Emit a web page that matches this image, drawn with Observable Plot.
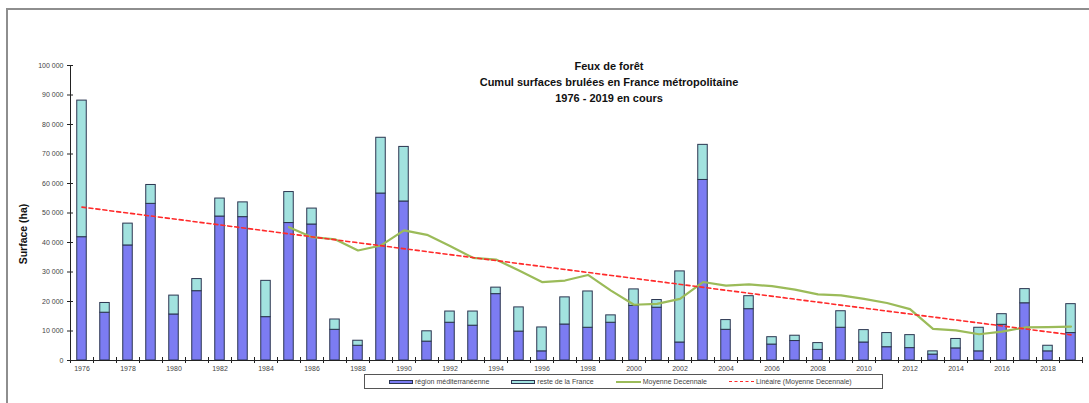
<!DOCTYPE html>
<html>
<head>
<meta charset="utf-8">
<script src="https://cdn.jsdelivr.net/npm/d3@7"></script>
<script src="https://cdn.jsdelivr.net/npm/@observablehq/plot@0.6"></script>
<style>
  html, body { margin: 0; padding: 0; background: #fff; }
  #wrap { position: relative; width: 1089px; height: 403px; overflow: hidden; font-family: "Liberation Sans", Arial, sans-serif; }
  #frame { position: absolute; left: 6px; top: 8px; width: 1100px; height: 420px; border-left: 2px solid #8e8e8e; border-top: 2px solid #8e8e8e; }
  #chart { position: absolute; left: 0; top: 0; }
  #title { position: absolute; left: 409px; width: 400px; top: 58px; text-align: center; font-weight: bold; font-size: 11px; line-height: 16px; color: #111; font-family: "Liberation Sans Narrow", "Liberation Sans", Arial, sans-serif; }
  #ylabel { position: absolute; left: 23px; top: 234px; transform: translate(-50%, -50%) rotate(-90deg); font-weight: bold; font-size: 10.5px; white-space: nowrap; color: #111; }
  #legend { position: absolute; left: 364px; top: 374px; width: 519px; height: 15px; border: 1px solid #555; box-sizing: border-box; display: flex; align-items: center; font-size: 7px; color: #444; padding-left: 24px; }
  .item { display: flex; align-items: center; margin-right: 22px; white-space: nowrap; }
  .sw { display: inline-block; width: 24px; height: 4px; border: 1px solid #2b3550; box-sizing: border-box; margin-right: 2px; }
  .ln { display: inline-block; width: 25px; height: 0; margin-right: 2px; }
</style>
</head>
<body>
<div id="wrap">
  <div id="frame"></div>
  <div id="chart"></div>
  <div id="title">Feux de forêt<br>Cumul surfaces brulées en France métropolitaine<br>1976 - 2019 en cours</div>
  <div id="ylabel">Surface (ha)</div>
  <div id="legend"></div>
</div>
<script>
// ---- data ----
const years = [1976,1977,1978,1979,1980,1981,1982,1983,1984,1985,1986,1987,1988,1989,1990,1991,1992,1993,1994,1995,1996,1997,1998,1999,2000,2001,2002,2003,2004,2005,2006,2007,2008,2009,2010,2011,2012,2013,2014,2015,2016,2017,2018,2019];
const mediterranee = [41800,16200,39000,53100,15600,23500,48800,48600,14700,46600,46100,10400,5000,56600,53900,6400,12800,11800,22500,9800,3100,12200,11100,12800,18500,17900,6100,61200,10400,17400,5400,6600,3600,11100,6100,4500,4200,2000,4100,3100,12100,19400,3100,9300];
const resteFrance = [46300,3300,7400,6400,6400,4100,6100,5000,12300,10500,5400,3500,1700,18900,18500,3500,3800,4800,2200,8200,8100,9200,12300,2500,5600,2600,24100,11900,3300,4400,2500,1800,2300,5600,4200,4800,4400,1100,3200,8000,3600,4800,1900,9800];
const moyenneYears = [1985,1986,1987,1988,1989,1990,1991,1992,1993,1994,1995,1996,1997,1998,1999,2000,2001,2002,2003,2004,2005,2006,2007,2008,2009,2010,2011,2012,2013,2014,2015,2016,2017,2018,2019];
const moyenneDecennale = [45200,41800,41100,37300,39000,44100,42600,38800,34800,34200,30500,26600,27100,29000,23700,18900,19200,20900,26600,25400,25800,25200,24000,22400,22100,20900,19500,17400,10700,10200,8900,9800,11200,11300,11500];
const trendYears = [1976, 2019];
const trendValues = [52000, 8700];
const yTicks = [0,10000,20000,30000,40000,50000,60000,70000,80000,90000,100000];
const xLabelYears = [1976,1978,1980,1982,1984,1986,1988,1990,1992,1994,1996,1998,2000,2002,2004,2006,2008,2010,2012,2014,2016,2018];
const seriesNames = ["région méditerranéenne", "reste de la France", "Moyenne Decennale", "Linéaire (Moyenne Decennale)"];
const colors = ["#7c7cf2", "#a2e2df", "#9bbb59", "#ff2a2a"];

// ---- build tables ----
const bars = [];
years.forEach((y, i) => {
  bars.push({year: y, serie: seriesNames[0], value: mediterranee[i]});
  bars.push({year: y, serie: seriesNames[1], value: resteFrance[i]});
});
const avg = moyenneYears.map((y, i) => ({year: y, value: moyenneDecennale[i]}));
const trend = trendYears.map((y, i) => ({year: y, value: trendValues[i]}));
const xMin = years[0] - 0.5, xMax = years[years.length - 1] + 0.5;
const boundaries = years.map(y => y - 0.5).concat([xMax]);
const fmt = d => d3.format(",")(d).replace(/,/g, " ");

const chart = Plot.plot({
  width: 1089,
  height: 403,
  marginLeft: 70,
  marginRight: 7,
  marginTop: 65,
  marginBottom: 43,
  style: {fontFamily: "Liberation Sans, Arial, sans-serif", background: "transparent"},
  x: {domain: [xMin, xMax], axis: null},
  y: {domain: [0, 100000], axis: null},
  color: {domain: seriesNames.slice(0, 2), range: colors.slice(0, 2)},
  marks: [
    Plot.rectY(bars, {x1: d => d.year - 0.5, x2: d => d.year + 0.5, y: "value", fill: "serie", insetLeft: 6.75, insetRight: 6.75, stroke: "#2b3550", strokeWidth: 1}),
    Plot.line(avg, {x: "year", y: "value", stroke: colors[2], strokeWidth: 2.2}),
    Plot.line(trend, {x: "year", y: "value", stroke: colors[3], strokeWidth: 1.6, strokeDasharray: "4,3"}),
    // axis lines
    Plot.ruleX([xMin], {y1: 0, y2: 100000, stroke: "#222", strokeWidth: 1}),
    Plot.ruleY([0], {x1: xMin, x2: xMax, stroke: "#222", strokeWidth: 1}),
    // crossing ticks
    Plot.ruleY(yTicks, {y: d => d, x1: xMin, x2: xMin, insetLeft: -3, insetRight: -3, stroke: "#222"}),
    Plot.ruleX(boundaries, {x: d => d, y1: 0, y2: 0, insetTop: -3, insetBottom: -3, stroke: "#222"}),
    Plot.axisY(yTicks, {tickSize: 0, tickPadding: 7, tickFormat: fmt, fontSize: 7, fill: "#444", label: null}),
    Plot.axisX(xLabelYears, {tickSize: 0, tickPadding: 6, tickFormat: d => String(d), fontSize: 7, fill: "#444", label: null})
  ]
});
document.getElementById("chart").appendChild(chart);

// ---- legend ----
const leg = document.getElementById("legend");
seriesNames.forEach((name, i) => {
  const it = document.createElement("div");
  it.className = "item";
  const sw = document.createElement("span");
  if (i < 2) { sw.className = "sw"; sw.style.background = colors[i]; }
  else { sw.className = "ln"; sw.style.borderTop = i === 2 ? `2px solid ${colors[i]}` : `1.5px dashed ${colors[i]}`; }
  it.appendChild(sw);
  const t = document.createElement("span");
  t.textContent = name;
  it.appendChild(t);
  leg.appendChild(it);
});
</script>
</body>
</html>
